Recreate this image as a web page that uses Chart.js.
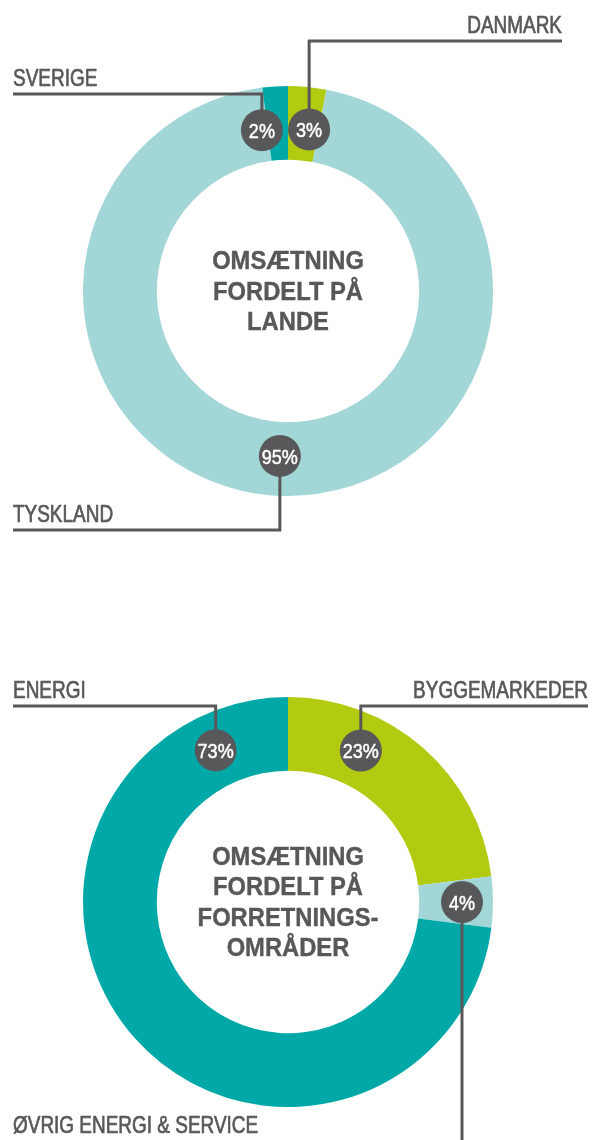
<!DOCTYPE html>
<html>
<head>
<meta charset="utf-8">
<script src="https://cdn.jsdelivr.net/npm/chart.js@4"></script>
<style>
  body { margin: 0; background: #ffffff; }
  canvas { display: block; }
</style>
</head>
<body>
<canvas id="landeChart" width="596" height="560"></canvas>
<canvas id="omraadeChart" width="596" height="580"></canvas>
<script>
// omsætning fordelt på lande
const landeLabels = ['DANMARK', 'TYSKLAND', 'SVERIGE'];
const landeValues = [3, 95, 2];
const landeTitle = ['OMSÆTNING', 'FORDELT PÅ', 'LANDE'];

// omsætning fordelt på forretningsområder
const omraadeLabels = ['BYGGEMARKEDER', 'ØVRIG ENERGI & SERVICE', 'ENERGI'];
const omraadeValues = [23, 4, 73];
const omraadeTitle = ['OMSÆTNING', 'FORDELT PÅ', 'FORRETNINGS-', 'OMRÅDER'];

const GREEN = '#b2ca0f';
const LIGHT = '#a2d6d7';
const TEAL = '#00a8a8';
const GREY = '#58585a';

// tegner tekst i midten, badges med procent og linjer ud til navnene
const infoPlugin = {
    id: 'info',
    afterDraw(chart, args, opts) {
        const ctx = chart.ctx;
        const meta = chart.getDatasetMeta(0);
        const values = chart.data.datasets[0].data;
        const labels = chart.data.labels;
        const cx = meta.data[0].x;
        const cy = meta.data[0].y;

        const drawText = (txt, x, y, align, font, sx, color, stroke) => {
            ctx.save();
            ctx.translate(x, y);
            ctx.scale(sx, 1);
            ctx.font = font;
            ctx.fillStyle = color;
            ctx.strokeStyle = color;
            ctx.lineWidth = stroke;
            ctx.lineJoin = 'round';
            ctx.textAlign = align;
            ctx.textBaseline = 'alphabetic';
            ctx.fillText(txt, 0, 0);
            if (stroke > 0) ctx.strokeText(txt, 0, 0);
            ctx.restore();
        };

        // midtertekst
        const n = opts.title.length;
        opts.title.forEach((line, i) => {
            const y = cy + (i - (n - 1) / 2) * 30.5 + 8.6;
            drawText(line, cx, y, 'center', 'bold 25px "Liberation Sans", Arial, sans-serif', 0.95, GREY, 0.4);
        });

        const badges = opts.badges.map((b, i) => {
            const arc = meta.data[i];
            const a = arc.startAngle + b.frac * (arc.endAngle - arc.startAngle);
            const r = arc.innerRadius + b.ring * (arc.outerRadius - arc.innerRadius);
            return { x: arc.x + r * Math.cos(a), y: arc.y + r * Math.sin(a), b: b, i: i };
        });

        // linjer
        ctx.save();
        ctx.strokeStyle = GREY;
        ctx.lineWidth = 3;
        badges.forEach(p => {
            const b = p.b;
            ctx.beginPath();
            ctx.moveTo(p.x, p.y);
            if (b.lineY == null) {
                ctx.lineTo(p.x, chart.height);
            } else {
                ctx.lineTo(p.x, b.lineY);
                ctx.lineTo(b.edgeX, b.lineY);
            }
            ctx.stroke();
        });
        ctx.restore();

        // navne
        badges.forEach(p => {
            const b = p.b;
            const align = b.side === 'right' ? 'right' : 'left';
            const tx = b.labelX != null ? b.labelX : b.edgeX;
            const ty = b.labelY != null ? b.labelY : b.lineY - 8;
            drawText(labels[p.i], tx, ty, align, '24px "Liberation Sans", Arial, sans-serif', 0.79, GREY, 0.7);
        });

        // badges
        badges.forEach(p => {
            ctx.save();
            ctx.fillStyle = GREY;
            ctx.beginPath();
            ctx.arc(p.x, p.y, 21, 0, Math.PI * 2);
            ctx.fill();
            ctx.restore();
            drawText(values[p.i] + '%', p.x, p.y + 7.8, 'center', '21px "Liberation Sans", Arial, sans-serif', 0.86, '#ffffff', 0.5);
        });
    }
};

const baseOptions = (padding, title, badges) => ({
    responsive: false,
    animation: false,
    cutout: '64%',
    layout: { padding: padding },
    plugins: {
        legend: { display: false },
        tooltip: { enabled: false },
        info: { title: title, badges: badges }
    }
});

new Chart(document.getElementById('landeChart'), {
    type: 'doughnut',
    data: {
        labels: landeLabels,
        datasets: [{
            data: landeValues,
            backgroundColor: [GREEN, LIGHT, TEAL],
            borderWidth: 0
        }]
    },
    options: baseOptions(
        { left: 83, right: 103, top: 86, bottom: 64 },
        landeTitle,
        [
            { frac: 0.69, ring: 0.43, side: 'right', lineY: 41, edgeX: 562 },
            { frac: 0.503, ring: 0.46, side: 'left', lineY: 530, edgeX: 13 },
            { frac: -0.28, ring: 0.43, side: 'left', lineY: 94, edgeX: 13 }
        ]
    ),
    plugins: [infoPlugin]
});

new Chart(document.getElementById('omraadeChart'), {
    type: 'doughnut',
    data: {
        labels: omraadeLabels,
        datasets: [{
            data: omraadeValues,
            backgroundColor: [GREEN, LIGHT, TEAL],
            borderWidth: 0
        }]
    },
    options: baseOptions(
        { left: 83, right: 103, top: 137, bottom: 33 },
        omraadeTitle,
        [
            { frac: 0.31, ring: 0.5, side: 'right', lineY: 146, edgeX: 588 },
            { frac: 0.5, ring: 0.58, side: 'left', lineY: null, labelX: 13, labelY: 573 },
            { frac: 0.903, ring: 0.5, side: 'left', lineY: 146, edgeX: 13 }
        ]
    ),
    plugins: [infoPlugin]
});
</script>
</body>
</html>
